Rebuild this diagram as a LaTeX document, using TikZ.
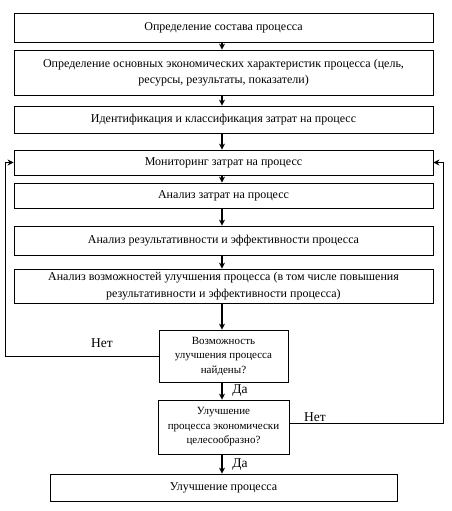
\documentclass[tikz,border=0pt]{standalone}
\usepackage{fontspec}
\setmainfont{Liberation Serif}
\usetikzlibrary{arrows.meta}
\begin{document}
\begin{tikzpicture}[x=1pt,y=-1pt,
  box/.style={draw, line width=0.8pt, align=center, inner sep=0pt, font=\fontsize{12}{16.5}\selectfont},
  dbox/.style={box, font=\fontsize{11}{14.5}\selectfont},
  flow/.style={line width=1.8pt, -{Stealth[length=6pt,width=6pt]}},
  back/.style={line width=0.8pt, -{Stealth[length=6pt,width=6pt]}},
  lbl/.style={font=\fontsize{13.5}{15}\selectfont, inner sep=0pt}]
\useasboundingbox (0,0) rectangle (452,511);
\node[box, minimum width=419pt, minimum height=29pt] (b1) at (223.5,27.5) {Определение состава процесса};
\node[box, minimum width=419pt, minimum height=45pt] (b2) at (223.5,72.5) {Определение основных экономических характеристик процесса (цель,\\ресурсы, результаты, показатели)};
\node[box, minimum width=419pt, minimum height=27pt] (b3) at (223.5,119.5) {Идентификация и классификация затрат на процесс};
\node[box, minimum width=419pt, minimum height=25pt] (b4) at (223.5,162.5) {Мониторинг затрат на процесс};
\node[box, minimum width=419pt, minimum height=25pt] (b5) at (223.5,195.5) {Анализ затрат на процесс};
\node[box, minimum width=419pt, minimum height=29pt] (b6) at (223.5,240.5) {Анализ результативности и эффективности процесса};
\node[box, minimum width=419pt, minimum height=34pt] (b7) at (223.5,286) {Анализ возможностей улучшения процесса (в том числе повышения\\результативности и эффективности процесса)};
\node[dbox, minimum width=129pt, minimum height=52pt] (d1) at (223.5,356) {Возможность\\улучшения процесса\\найдены?};
\node[dbox, minimum width=131pt, minimum height=54pt] (d2) at (223.5,427) {Улучшение\\процесса экономически\\целесообразно?};
\node[box, minimum width=347pt, minimum height=27pt] (f) at (223.5,487.5) {Улучшение процесса};
\coordinate (L) at (5,0);
\coordinate (R) at (443,0);
\coordinate (A) at (222,0);
\draw[flow] (b1.south -| A) -- (b2.north -| A);
\draw[flow] (b2.south -| A) -- (b3.north -| A);
\draw[flow] (b3.south -| A) -- (b4.north -| A);
\draw[flow] (b4.south -| A) -- (b5.north -| A);
\draw[flow] (b5.south -| A) -- (b6.north -| A);
\draw[flow] (b6.south -| A) -- (b7.north -| A);
\draw[flow] (b7.south -| A) -- (d1.north -| A);
\draw[flow] (d1.south -| A) -- (d2.north -| A);
\draw[flow] (d2.south -| A) -- (f.north -| A);
\draw[back] (d1.west) -- (d1.west -| L) |- (b4.west);
\draw[back] ([yshift=4pt]d2.east) -- ([yshift=4pt]d2.east -| R) |- (b4.east);
\node[lbl] (n1) at (102,343) {Нет};
\node[lbl] (y1) at (240,391) {Да};
\node[lbl] (n2) at (315,417) {Нет};
\node[lbl] (y2) at (240,465) {Да};
\end{tikzpicture}
\end{document}
